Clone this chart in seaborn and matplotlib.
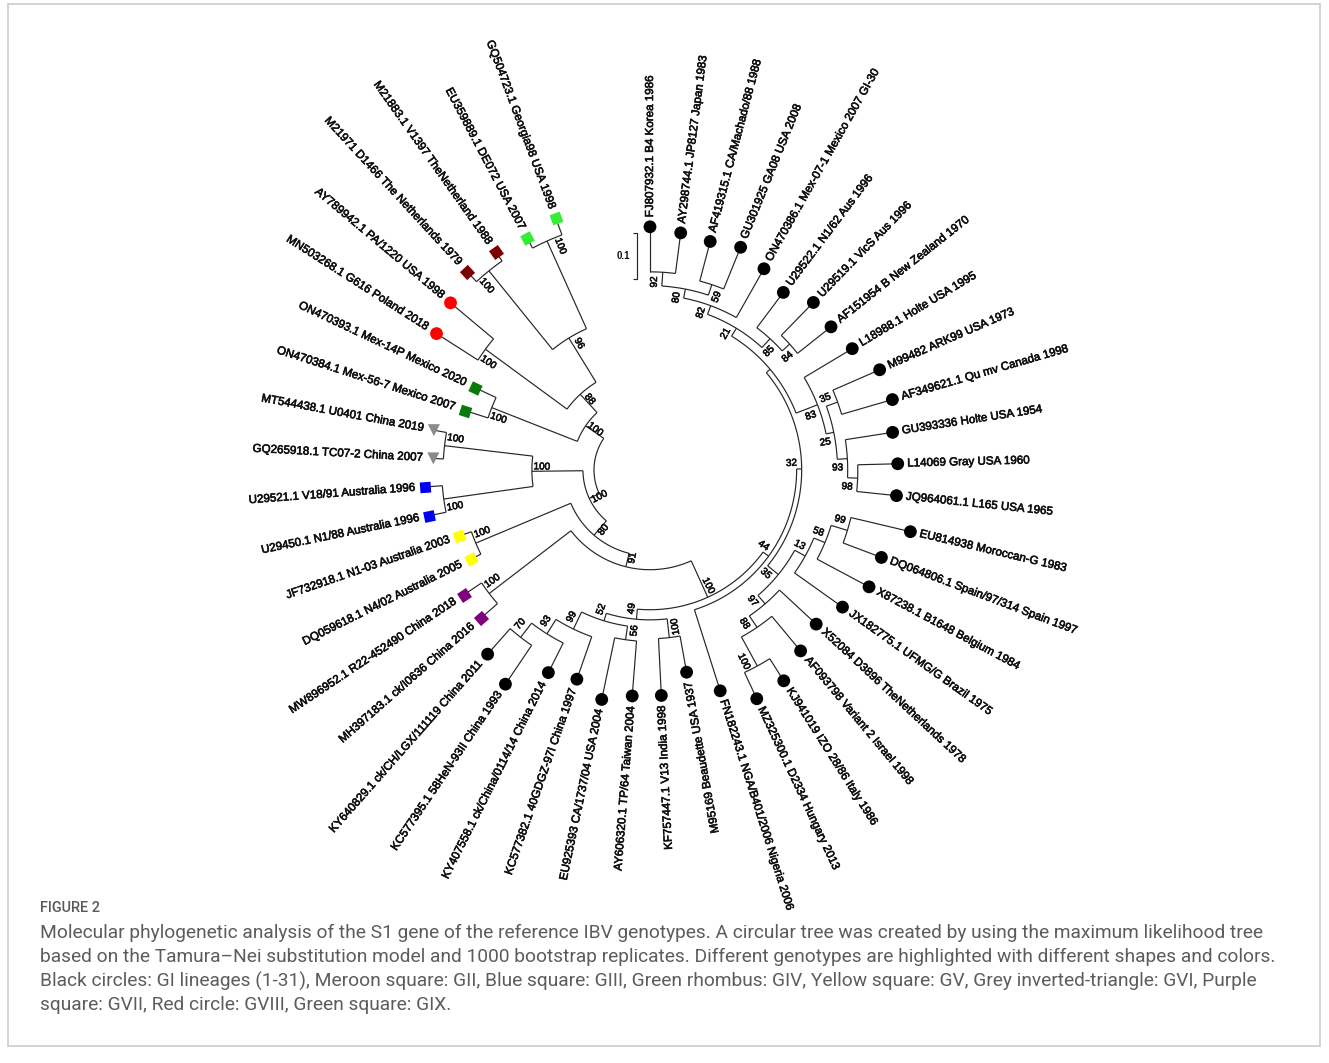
import re
import numpy as np
import pandas as pd
import matplotlib
matplotlib.use("Agg")
import matplotlib.pyplot as plt
import matplotlib.patheffects as pe
import seaborn as sns
from matplotlib import font_manager
from matplotlib.markers import MarkerStyle
from matplotlib.transforms import Affine2D
from matplotlib.patches import Rectangle

# ---------------------------------------------------------------- data
LEAF_LABELS = [
    "FJ807932.1 B4 Korea 1986",
    "AY298744.1 JP8127 Japan 1983",
    "AF419315.1 CA/Machado/88 1988",
    "GU301925 GA08 USA 2008",
    "ON470386.1 Mex-07-1 Mexico 2007 GI-30",
    "U29522.1 N1/62 Aus 1996",
    "U29519.1 VicS Aus 1996",
    "AF151954 B New Zealand 1970",
    "L18988.1 Holte USA 1995",
    "M99482 ARK99 USA 1973",
    "AF349621.1 Qu mv Canada 1998",
    "GU393336 Holte USA 1954",
    "L14069 Gray USA 1960",
    "JQ964061.1 L165 USA 1965",
    "EU814938 Moroccan-G 1983",
    "DQ064806.1 Spain/97/314 Spain 1997",
    "X87238.1 B1648 Belgium 1984",
    "JX182775.1 UFMG/G Brazil 1975",
    "X52084 D3896 TheNetherlands 1978",
    "AF093798 Variant 2 Israel 1998",
    "KJ941019 IZO 28/86 Italy 1986",
    "MZ325300.1 D2334 Hungary 2013",
    "FN182243.1 NGA/B401/2006 Nigeria 2006",
    "M95169 Beaudette USA 1937",
    "KF757447.1 V13 India 1998",
    "AY606320.1 TP/64 Taiwan 2004",
    "EU925393 CA/1737/04 USA 2004",
    "KC577382.1 40GDGZ-97I China 1997",
    "KY407558.1 ck/China/0114/14 China 2014",
    "KC577395.1 58HeN-93II China 1993",
    "KY640829.1 ck/CH/LGX/111119 China 2011",
    "MH397183.1 ck/I0636 China 2016",
    "MW896952.1 R22-452490 China 2018",
    "DQ059618.1 N4/02 Australia 2005",
    "JF732918.1 N1-03 Australia 2003",
    "U29450.1 N1/88 Australia 1996",
    "U29521.1 V18/91 Australia 1996",
    "GQ265918.1 TC07-2 China 2007",
    "MT544438.1 U0401 China 2019",
    "ON470384.1 Mex-56-7 Mexico 2007",
    "ON470393.1 Mex-14P Mexico 2020",
    "MN503268.1 G616 Poland 2018",
    "AY789942.1 PA/1220 USA 1998",
    "M21971 D1466 The Netherlands 1979",
    "M21883.1 V1397 TheNetherland 1988",
    "EU359889.1 DE072 USA 2007",
    "GQ504723.1 Georgia98 USA 1998",
]

LEAF_GENOTYPE = (["GI"] * 31 + ["GVII"] * 2 + ["GV"] * 2 + ["GIII"] * 2 +
                 ["GVI"] * 2 + ["GIX"] * 2 + ["GVIII"] * 2 + ["GII"] * 2 +
                 ["GIV"] * 2)

GENOTYPES = ["GI", "GII", "GIII", "GIV", "GV", "GVI", "GVII", "GVIII", "GIX"]
GENOTYPE_COLORS = ["#000000", "#7b0000", "#0000ee", "#33ee33", "#ffff00",
                   "#8a8a8a", "#800080", "#ff0000", "#0a7a0a"]
GENOTYPE_MARKERS = ["o", "s", "s", "s", "s", "v", "s", "o", "s"]

# Maximum-likelihood topology: tNN = leaf index, node label = bootstrap (%),
# number after ':' = branch length (substitutions per site)
GI_CLADE = """
((((((((t0:0.098,t1:0.089)92:0.030,(t2:0.089,t3:0.098)59:0.024)80:0.020,t4:0.122)82:0.020,
      (t5:0.096,(t6:0.100,t7:0.093)84:0.022)85:0.026)21:0.020,
     (t8:0.122,((t9:0.111,t10:0.115)35:0.026,(t11:0.104,(t12:0.087,t13:0.087)98:0.022)93:0.022)25:0.017)83:0.050):0.011,
    ((((t14:0.133,t15:0.089)99:0.037,t16:0.128)58:0.026,t17:0.128)13:0.026,
     (t18:0.109,(t19:0.098,(t20:0.057,t21:0.063)100:0.072)88:0.030)97:0.024)35:0.030)32:0.011,
   t22:0.185)44:0.015,
  (((((t29:0.102,t30:0.074)70:0.039,t28:0.072)93:0.037,t27:0.098)99:0.041,
    (t25:0.120,t26:0.137)56:0.030)52:0.017,
   (t23:0.080,t24:0.124)100:0.041)49:0.022)100:0.087
"""

TREE_NEWICK = """
(((t39:0.052,t40:0.050)100:0.200,
  ((t41:0.107,t42:0.122)100:0.220,
   ((t43:0.030,t44:0.024)100:0.220,(t45:0.026,t46:0.039)100:0.209)96:0.113)88:0.054)100:0.048,
 (((t37:0.022,t38:0.028)100:0.193,(t35:0.037,t36:0.037)100:0.196)100:0.111,
  ((t33:0.024,t34:0.028)100:0.224,
   ((t31:0.048,t32:0.046)100:0.224,""" + GI_CLADE + """)91:0.030)80:0.041)100:0.024);
"""

SCALE_BAR = 0.1

CAPTION_TITLE = "FIGURE 2"
CAPTION_LINES = [
    "Molecular phylogenetic analysis of the S1 gene of the reference IBV genotypes. "
    "A circular tree was created by using the maximum likelihood tree",
    "based on the Tamura\u2013Nei substitution model and 1000 bootstrap replicates. "
    "Different genotypes are highlighted with different shapes and colors.",
    "Black circles: GI lineages (1-31), Meroon square: GII, Blue square: GIII, "
    "Green rhombus: GIV, Yellow square: GV, Grey inverted-triangle: GVI, Purple",
    "square: GVII, Red circle: GVIII, Green square: GIX.",
]

# ---------------------------------------------------------------- layout
W, H = 1329, 1063
PX = 460.0              # pixels per unit of branch length
CX, CY = 650.0, 470.0   # tree centre in pixels
ROOT_R = 56.0 / PX      # radius of the root arc
START_ANGLE = 90.0      # first tip, degrees
STEP = 7.38             # angular spacing of tips, degrees


def parse_newick(s):
    s = re.sub(r"\s+", "", s).rstrip(";")
    pos = 0

    def node():
        nonlocal pos
        children = []
        if s[pos] == "(":
            pos += 1
            while True:
                children.append(node())
                if s[pos] == ",":
                    pos += 1
                    continue
                pos += 1
                break
        m = re.match(r"([^:,();]*)(?::([0-9.eE+-]+))?", s[pos:])
        pos += m.end()
        return {"name": m.group(1), "bl": float(m.group(2) or 0.0),
                "children": children}

    return node()


def layout(n, r_parent):
    n["r"] = r_parent + n["bl"]
    if not n["children"]:
        n["leaf"] = int(n["name"][1:])
        n["a"] = START_ANGLE - STEP * n["leaf"]
    else:
        for c in n["children"]:
            layout(c, n["r"])
        angs = [c["a"] for c in n["children"]]
        n["a"] = 0.5 * (max(angs) + min(angs))


root = parse_newick(TREE_NEWICK)
layout(root, ROOT_R)

# ---------------------------------------------------------------- style
sns.set_theme(style="white")
available = {f.name for f in font_manager.fontManager.ttflist}
TREE_FONT = ["Liberation Sans", "DejaVu Sans"] if "Liberation Sans" in available else ["DejaVu Sans"]
CAP_FONT = [f for f in ["Roboto", "Open Sans", "Liberation Sans", "DejaVu Sans"] if f in available][:1] + ["DejaVu Sans"]
plt.rcParams["font.family"] = TREE_FONT

HEAVY = [pe.withStroke(linewidth=0.45, foreground="#111111")]

fig = plt.figure(figsize=(W / 100, H / 100), dpi=100)
ax = fig.add_axes([0, 0, 1, 1])
ax.set_xlim(-CX / PX, (W - CX) / PX)
ax.set_ylim(-(H - CY) / PX, CY / PX)
ax.set_aspect("equal")
ax.axis("off")

LINE_KW = dict(color="#262626", lw=0.85, solid_capstyle="butt", zorder=2)


def polar(r, a):
    t = np.radians(a)
    return r * np.cos(t), r * np.sin(t)


def text_rot(a):
    """Rotation and alignment for text running outward at angle a."""
    if -76.0 < a <= 90.5:
        return a, "left"
    return a + 180.0, "right"


def draw(n, parent=None):
    if n["children"]:
        angs = [c["a"] for c in n["children"]]
        t = np.linspace(min(angs), max(angs), 120)
        x, y = polar(n["r"], t)
        ax.plot(x, y, **LINE_KW)
        for c in n["children"]:
            x0, y0 = polar(n["r"], c["a"])
            x1, y1 = polar(c["r"], c["a"])
            ax.plot([x0, x1], [y0, y1], **LINE_KW)
            draw(c, n)
        if parent is not None and n["name"]:
            side = 2.5 if n["a"] >= parent["a"] else -2.5
            la = n["a"] + side
            lx, ly = polar(n["r"] - 10.0 / PX, la)
            rot, _ = text_rot(la)
            ax.text(lx, ly, n["name"], rotation=rot, rotation_mode="anchor",
                    ha="center", va="center", fontsize=7.2, color="#111111",
                    zorder=4, path_effects=HEAVY)


draw(root)

# ---------------------------------------------------------------- tips
tips = []


def collect(n):
    if n["children"]:
        for c in n["children"]:
            collect(c)
    else:
        x, y = polar(n["r"], n["a"])
        tips.append({"leaf": n["leaf"], "x": x, "y": y, "a": n["a"], "r": n["r"],
                     "label": LEAF_LABELS[n["leaf"]],
                     "genotype": LEAF_GENOTYPE[n["leaf"]]})


collect(root)
tips = pd.DataFrame(tips).sort_values("leaf")
col = dict(zip(GENOTYPES, GENOTYPE_COLORS))
mk = dict(zip(GENOTYPES, GENOTYPE_MARKERS))
tips["marker"] = tips["genotype"].map(mk)

plain = tips[tips["marker"] != "s"]
sizes = {"o": 85, "v": 75}
for m, grp in plain.groupby("marker"):
    sns.scatterplot(data=grp, x="x", y="y", hue="genotype", palette=col,
                    marker=m, s=sizes[m], linewidth=0, legend=False, ax=ax,
                    zorder=5)

for _, row in tips[tips["marker"] == "s"].iterrows():
    ms = MarkerStyle("s", transform=Affine2D().rotate_deg(row["a"]))
    ax.scatter([row["x"]], [row["y"]], marker=ms, s=60, color=col[row["genotype"]],
               linewidths=0, zorder=5)

GAP = 9.5 / PX
for _, row in tips.iterrows():
    x, y = polar(row["r"] + GAP, row["a"])
    rot, ha = text_rot(row["a"])
    ax.text(x, y, row["label"], rotation=rot, rotation_mode="anchor",
            ha=ha, va="center", fontsize=8.35, color="#111111", zorder=4,
            path_effects=HEAVY)

# ---------------------------------------------------------------- scale bar
sb_x = (637 - CX) / PX
sb_top = (CY - 233) / PX
tick = 4.0 / PX
ax.plot([sb_x - tick, sb_x, sb_x, sb_x - tick],
        [sb_top, sb_top, sb_top - SCALE_BAR, sb_top - SCALE_BAR], **LINE_KW)
ax.text(sb_x - 6.5 / PX, sb_top - SCALE_BAR / 2, f"{SCALE_BAR:g}", ha="right",
        va="center", fontsize=7.0, fontweight="bold", color="#111111")

ax.set_xlim(-CX / PX, (W - CX) / PX)
ax.set_ylim(-(H - CY) / PX, CY / PX)

# ---------------------------------------------------------------- frame + caption
fig.add_artist(Rectangle((8 / W, 1 - 1046 / H), (1320 - 8) / W, (1046 - 4) / H,
                         transform=fig.transFigure, fill=False,
                         edgecolor="#d0d0d0", lw=1.3))

renderer = fig.canvas.get_renderer()


def fit_text(x_px, y_px, s, width_px, size0, **kw):
    t = fig.text(x_px / W, 1 - y_px / H, s, fontsize=size0, ha="left",
                 va="center", family=CAP_FONT, **kw)
    w = t.get_window_extent(renderer).width
    t.set_fontsize(size0 * width_px / w)
    return t


fit_text(40, 908, CAPTION_TITLE, 60, 9, color="#5a5a5a", fontweight="medium")
cap_y = [933, 957, 981, 1005]
cap_w = [1222, 1228, 1230, 500]
ref = fit_text(40, cap_y[0], CAPTION_LINES[0], cap_w[0], 12, color="#5c5c5c")
fs = ref.get_fontsize()
for yy, line in zip(cap_y[1:], CAPTION_LINES[1:]):
    fig.text(40 / W, 1 - yy / H, line, fontsize=fs, ha="left", va="center",
             family=CAP_FONT, color="#5c5c5c")

fig.savefig("out.png", dpi=100, facecolor="white")
